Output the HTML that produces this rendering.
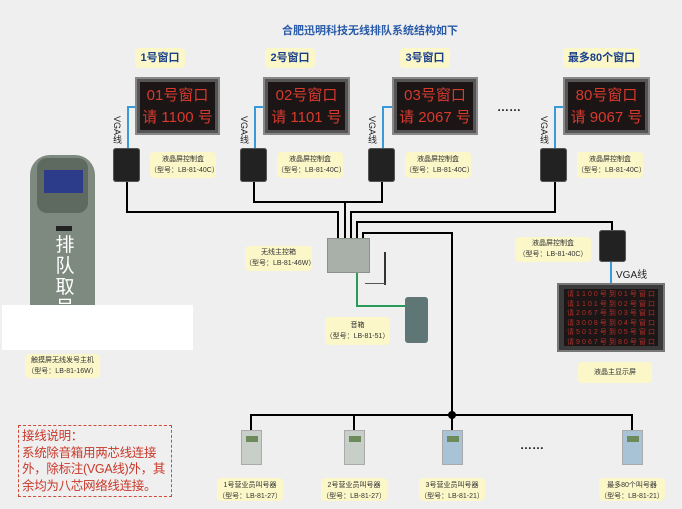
<!DOCTYPE html>
<html><head><meta charset="utf-8"><style>
*{margin:0;padding:0;box-sizing:border-box}
body{width:682px;height:509px;background:#efefef;position:relative;overflow:hidden;font-family:"Liberation Sans","Noto Sans CJK SC",sans-serif}
.a{position:absolute}
.y{position:absolute;background:#fbf7c8;border-radius:4px;text-align:center;color:#333;font-size:7px;line-height:11px;padding-top:2px}
.w{position:absolute;background:#fbf7c8;border-radius:4px;text-align:center;color:#1a3f8a;font-size:11px;font-weight:bold;line-height:20px}
.mon{position:absolute;background:#555;border:2px solid #888;padding:3px}
.mon div{background:#1b1515;width:100%;height:100%;color:#d83a2e;text-align:center;font-size:15px;line-height:22px;padding-top:3px}
.ctl{position:absolute;background:#222;border-radius:3px;width:27px;height:34px;box-shadow:inset 0 0 0 1px #555}
.k{position:absolute;background:#000}
.vga{position:absolute;font-size:9px;color:#222;writing-mode:vertical-rl}
.dev{position:absolute;width:21px;height:35px;background:#c8cfc8;border:1px solid #aaa}
.dev i{position:absolute;left:4px;top:5px;width:12px;height:6px;background:#6c8a5a}
.dev.b{background:#a9c3d6}
.row{display:flex;justify-content:space-between;height:9.5px;line-height:9.5px}
</style></head><body>
<div class="a" style="left:0;top:22px;width:740px;text-align:center;color:#2a5ba8;font-size:11px;font-weight:bold">合肥迅明科技无线排队系统结构如下</div>

<div class="w" style="left:135px;top:48px;width:50px">1号窗口</div>
<div class="w" style="left:265px;top:48px;width:50px">2号窗口</div>
<div class="w" style="left:400px;top:48px;width:50px">3号窗口</div>
<div class="w" style="left:563px;top:48px;width:77px">最多80个窗口</div>

<div class="mon" style="left:135px;top:77px;width:85px;height:58px"><div>01号窗口<br>请 1100 号</div></div>
<div class="mon" style="left:263px;top:77px;width:87px;height:58px"><div>02号窗口<br>请 1101 号</div></div>
<div class="mon" style="left:392px;top:77px;width:86px;height:58px"><div>03号窗口<br>请 2067 号</div></div>
<div class="mon" style="left:563px;top:77px;width:87px;height:58px"><div>80号窗口<br>请 9067 号</div></div>
<div class="a" style="left:497px;top:100px;font-size:12px;font-weight:bold;color:#222">…… </div>

<div class="a" style="left:127px;top:106px;width:9px;height:2px;background:#3a9ad8"></div><div class="a" style="left:127px;top:106px;width:2px;height:43px;background:#3a9ad8"></div>
<div class="a" style="left:254px;top:106px;width:9px;height:2px;background:#3a9ad8"></div><div class="a" style="left:254px;top:106px;width:2px;height:43px;background:#3a9ad8"></div>
<div class="a" style="left:382px;top:106px;width:10px;height:2px;background:#3a9ad8"></div><div class="a" style="left:382px;top:106px;width:2px;height:43px;background:#3a9ad8"></div>
<div class="a" style="left:554px;top:106px;width:9px;height:2px;background:#3a9ad8"></div><div class="a" style="left:554px;top:106px;width:2px;height:43px;background:#3a9ad8"></div>
<div class="vga" style="left:111px;top:116px">VGA线</div>
<div class="vga" style="left:238px;top:116px">VGA线</div>
<div class="vga" style="left:366px;top:116px">VGA线</div>
<div class="vga" style="left:538px;top:116px">VGA线</div>

<div class="ctl" style="left:113px;top:148px"></div>
<div class="ctl" style="left:240px;top:148px"></div>
<div class="ctl" style="left:368px;top:148px"></div>
<div class="ctl" style="left:540px;top:148px"></div>
<div class="y" style="left:150px;top:152px;width:66px;height:26px">液晶屏控制盒<br>（型号：LB-81-40C）</div>
<div class="y" style="left:277px;top:152px;width:66px;height:26px">液晶屏控制盒<br>（型号：LB-81-40C）</div>
<div class="y" style="left:405px;top:152px;width:66px;height:26px">液晶屏控制盒<br>（型号：LB-81-40C）</div>
<div class="y" style="left:577px;top:152px;width:66px;height:26px">液晶屏控制盒<br>（型号：LB-81-40C）</div>

<div class="k" style="left:126px;top:182px;width:2px;height:31px"></div>
<div class="k" style="left:126px;top:211px;width:213px;height:2px"></div>
<div class="k" style="left:337px;top:211px;width:2px;height:29px"></div>
<div class="k" style="left:253px;top:182px;width:2px;height:21px"></div>
<div class="k" style="left:381px;top:182px;width:2px;height:21px"></div>
<div class="k" style="left:253px;top:201px;width:130px;height:2px"></div>
<div class="k" style="left:344px;top:201px;width:2px;height:39px"></div>
<div class="k" style="left:554px;top:182px;width:2px;height:31px"></div>
<div class="k" style="left:350px;top:211px;width:206px;height:2px"></div>
<div class="k" style="left:350px;top:211px;width:2px;height:29px"></div>
<div class="k" style="left:356px;top:221px;width:256px;height:2px"></div>
<div class="k" style="left:356px;top:221px;width:2px;height:19px"></div>
<div class="k" style="left:611px;top:221px;width:2px;height:10px"></div>
<div class="k" style="left:362px;top:232px;width:91px;height:2px"></div>
<div class="k" style="left:362px;top:232px;width:2px;height:8px"></div>
<div class="k" style="left:451px;top:232px;width:2px;height:184px"></div>

<div class="a" style="left:327px;top:238px;width:43px;height:35px;background:#a9b0aa;border:1px solid #8a908a"></div>
<div class="a" style="left:384px;top:252px;width:2px;height:33px;background:#333"></div>
<div class="a" style="left:365px;top:283px;width:20px;height:1px;background:#555"></div>
<div class="a" style="left:356px;top:273px;width:2px;height:34px;background:#2a9a5a"></div>
<div class="a" style="left:356px;top:305px;width:50px;height:2px;background:#2a9a5a"></div>
<div class="a" style="left:405px;top:297px;width:23px;height:46px;background:#5f7676;border-radius:3px"></div>
<div class="y" style="left:245px;top:246px;width:67px;height:25px;padding-top:1px">无线主控箱<br>（型号：LB-81-46W）</div>
<div class="y" style="left:325px;top:317px;width:65px;height:28px;padding-top:3px">音箱<br>（型号：LB-81-51）</div>

<div class="ctl" style="left:599px;top:230px;height:32px"></div>
<div class="y" style="left:515px;top:237px;width:76px;height:25px;padding-top:1px">液晶屏控制盒<br>（型号：LB-81-40C）</div>
<div class="a" style="left:610px;top:262px;width:2px;height:22px;background:#3a9ad8"></div>
<div class="a" style="left:616px;top:266px;font-size:10px;color:#222">VGA线</div>
<div class="a" style="left:557px;top:283px;width:108px;height:69px;background:#3a3a3a;border:2px solid #777;padding:4px 5px"><div style="background:#1c1616;height:100%;color:#b0302a;font-size:7px;padding:1px 3px">
<div class="row"><span>请</span><span>1</span><span>1</span><span>0</span><span>0</span><span>号</span><span>到</span><span>0</span><span>1</span><span>号</span><span>窗</span><span>口</span></div>
<div class="row"><span>请</span><span>1</span><span>1</span><span>0</span><span>1</span><span>号</span><span>到</span><span>0</span><span>2</span><span>号</span><span>窗</span><span>口</span></div>
<div class="row"><span>请</span><span>2</span><span>0</span><span>6</span><span>7</span><span>号</span><span>到</span><span>0</span><span>3</span><span>号</span><span>窗</span><span>口</span></div>
<div class="row"><span>请</span><span>3</span><span>0</span><span>0</span><span>8</span><span>号</span><span>到</span><span>0</span><span>4</span><span>号</span><span>窗</span><span>口</span></div>
<div class="row"><span>请</span><span>5</span><span>0</span><span>1</span><span>2</span><span>号</span><span>到</span><span>0</span><span>5</span><span>号</span><span>窗</span><span>口</span></div>
<div class="row"><span>请</span><span>9</span><span>0</span><span>6</span><span>7</span><span>号</span><span>到</span><span>8</span><span>0</span><span>号</span><span>窗</span><span>口</span></div>
</div></div>
<div class="y" style="left:578px;top:362px;width:74px;height:21px;line-height:17px">液晶主显示屏</div>

<div class="a" style="left:30px;top:155px;width:65px;height:152px;background:#7e8a7f;border-radius:20px 20px 0 0"></div>
<div class="a" style="left:37px;top:158px;width:51px;height:55px;background:#5e6a60;border-radius:10px"></div>
<div class="a" style="left:44px;top:170px;width:39px;height:23px;background:#2d3c8a"></div>
<div class="a" style="left:56px;top:226px;width:16px;height:5px;background:#222"></div>
<div class="a" style="left:55px;top:235px;width:20px;font-size:19px;line-height:21px;color:#fff;text-align:center">排队取号机</div>
<div class="a" style="left:2px;top:305px;width:191px;height:45px;background:#fff"></div>
<div class="y" style="left:25px;top:354px;width:75px;height:24px;padding-top:1px">触摸屏无线发号主机<br>（型号：LB-81-16W）</div>

<div class="k" style="left:250px;top:414px;width:383px;height:2px"></div>
<div class="k" style="left:250px;top:414px;width:2px;height:16px"></div>
<div class="k" style="left:353px;top:414px;width:2px;height:16px"></div>
<div class="k" style="left:451px;top:414px;width:2px;height:16px"></div>
<div class="k" style="left:631px;top:414px;width:2px;height:16px"></div>
<div class="a" style="left:448px;top:411px;width:8px;height:8px;border-radius:4px;background:#000"></div>
<div class="dev" style="left:241px;top:430px"><i></i></div>
<div class="dev" style="left:344px;top:430px"><i></i></div>
<div class="dev b" style="left:442px;top:430px"><i></i></div>
<div class="dev b" style="left:622px;top:430px"><i></i></div>
<div class="a" style="left:520px;top:438px;font-size:12px;font-weight:bold;color:#222">…… </div>
<div class="y" style="left:217px;top:478px;width:66px;height:23px">1号营业员叫号器<br>（型号：LB-81-27）</div>
<div class="y" style="left:321px;top:478px;width:66px;height:23px">2号营业员叫号器<br>（型号：LB-81-27）</div>
<div class="y" style="left:419px;top:478px;width:66px;height:23px">3号营业员叫号器<br>（型号：LB-81-21）</div>
<div class="y" style="left:599px;top:478px;width:66px;height:23px">最多80个叫号器<br>（型号：LB-81-21）</div>

<div class="a" style="left:18px;top:425px;width:154px;height:72px;border:1.5px dashed #d04a3a;color:#c8382a;font-size:12.5px;line-height:16.5px;padding:2px 3px;white-space:nowrap;letter-spacing:-0.3px;overflow:hidden">接线说明：<br>系统除音箱用两芯线连接<br>外，除标注(VGA线)外，其<br>余均为八芯网络线连接。</div>
</body></html>
